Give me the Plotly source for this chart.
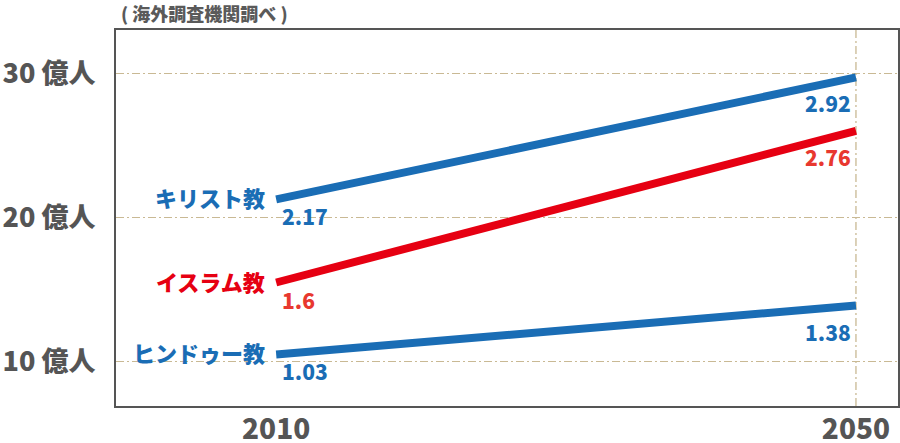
import plotly.graph_objects as go

religions = ["キリスト教", "イスラム教", "ヒンドゥー教"]
years = [2010, 2050]
# printed population labels (billions)
label_2010 = ["2.17", "1.6", "1.03"]
label_2050 = ["2.92", "2.76", "1.38"]
# line end positions as drawn in the picture (billions)
drawn_2010 = [2.125, 1.55, 1.052]
drawn_2050 = [2.97, 2.60, 1.39]
line_colors = ["#1a6db5", "#e60012", "#1a6db5"]
value_colors = ["#1a6db5", "#e8382f", "#1a6db5"]
y_ticks = [10, 20, 30]
y_tick_text = ["10 億人", "20 億人", "30 億人"]
source_note = "( 海外調査機関調べ )"

FONT = "Noto Sans CJK JP"
GRID = "#c9b994"
GRAY = "#555555"
DASH = "8px,3px,2px,3px"

fig = go.Figure()
annotations = []
for name, la, lb, a, bb, lc, vc in zip(religions, label_2010, label_2050,
                                       drawn_2010, drawn_2050, line_colors, value_colors):
    ya, yb = a * 10, bb * 10
    fig.add_trace(go.Scatter(x=years, y=[ya, yb], mode="lines",
                             line=dict(color=lc, width=8), hoverinfo="skip",
                             showlegend=False))
    annotations.append(dict(x=years[0], y=ya, text=name, showarrow=False,
                            xanchor="right", yanchor="middle", xshift=-9, yshift=2,
                            font=dict(family=FONT, size=22, color=lc, weight=900)))
    annotations.append(dict(x=years[0], y=ya, text=la, showarrow=False,
                            xanchor="left", yanchor="middle", xshift=4, yshift=-17,
                            font=dict(family=FONT, size=21, color=vc, weight=900)))
    annotations.append(dict(x=years[1], y=yb, text=lb, showarrow=False,
                            xanchor="right", yanchor="middle", xshift=-3, yshift=-26,
                            font=dict(family=FONT, size=21, color=vc, weight=900)))

annotations.append(dict(x=0.004, y=1.0, xref="paper", yref="paper", text=source_note,
                        showarrow=False, xanchor="left", yanchor="bottom", yshift=2,
                        font=dict(family=FONT, size=18, color="#5a5a5a", weight=900)))

fig.add_shape(type="line", xref="x", yref="paper", x0=years[1], x1=years[1], y0=0, y1=1,
              line=dict(color=GRID, width=1.3, dash=DASH), layer="below")

fig.update_layout(
    width=900, height=443,
    margin=dict(l=116, r=2, t=30, b=37),
    paper_bgcolor="white", plot_bgcolor="white",
    annotations=annotations,
    xaxis=dict(range=[1998.95, 2052.9], tickvals=years, ticktext=[str(y) for y in years],
               showgrid=False, zeroline=False, showline=True, mirror=True, automargin=False,
               linecolor=GRAY, linewidth=2, ticks="", ticklabelstandoff=-3,
               tickfont=dict(family=FONT, size=28, color=GRAY, weight=900)),
    yaxis=dict(range=[6.95, 32.98], tickvals=y_ticks, ticktext=y_tick_text,
               showgrid=True, gridcolor=GRID, gridwidth=1.3, griddash=DASH,
               zeroline=False, showline=True, mirror=True, automargin=False,
               linecolor=GRAY, linewidth=2, ticks="", ticklabelstandoff=13,
               tickfont=dict(family=FONT, size=27, color=GRAY, weight=900)),
)

fig.write_html("out.html", config={"displayModeBar": False},
               post_script="document.body.style.margin='0';")
